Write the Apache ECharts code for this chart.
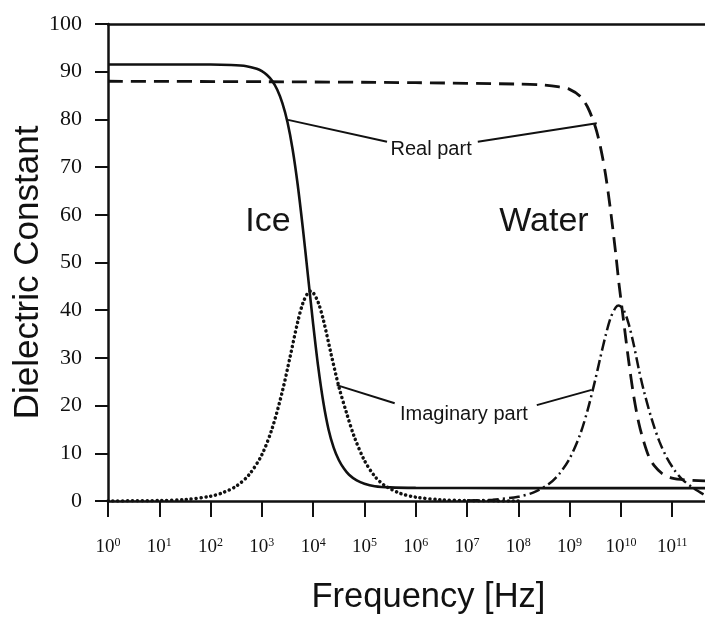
<!DOCTYPE html>
<html>
<head>
<meta charset="utf-8">
<script src="https://cdn.jsdelivr.net/npm/echarts@6/dist/echarts.min.js"></script>
<style>
html,body{margin:0;padding:0;background:#fff;}
#c{width:705px;height:619px;}
</style>
</head>
<body>
<div id="c"></div>
<script>
// x values are log10(frequency in Hz)
const decadeTicks = [0,1,2,3,4,5,6,7,8,9,10,11];
const yTicks = [0,10,20,30,40,50,60,70,80,90,100];

const iceRealLogF = [0, 1, 2, 2.4, 2.7, 2.9, 3.0, 3.1, 3.2, 3.3, 3.4, 3.5, 3.6, 3.7, 3.8, 3.9, 4.0, 4.1, 4.2, 4.3, 4.4, 4.5, 4.6, 4.7, 4.85, 5.0, 5.2, 5.5, 6, 8, 10, 11.64];
const iceReal     = [91.5, 91.5, 91.5, 91.4, 91.15, 90.6, 90.1, 89.3, 88.1, 86.2, 83.4, 79.4, 73.7, 66.2, 57.1, 47.1, 37.1, 28.0, 20.6, 15.0, 11.2, 8.6, 6.8, 5.5, 4.3, 3.6, 3.1, 2.85, 2.75, 2.7, 2.7, 2.7];

const iceImagLogF = [0, 1, 1.5, 2, 2.25, 2.5, 2.75, 3.0, 3.2, 3.4, 3.55, 3.7, 3.8, 3.9, 3.95, 4.0, 4.1, 4.2, 4.35, 4.5, 4.65, 4.8, 5.0, 5.2, 5.4, 5.7, 6.0, 6.5, 7.0, 8.0];
const iceImag     = [0, 0.1, 0.3, 1.0, 1.8, 3.1, 5.5, 9.7, 15.2, 23.0, 30.2, 37.6, 41.5, 43.7, 44.0, 43.7, 41.6, 37.9, 30.8, 24.0, 18.5, 13.5, 8.5, 5.2, 3.2, 1.6, 0.8, 0.25, 0.08, 0];

const waterRealLogF = [0, 3, 6, 8, 8.5, 8.8, 9.0, 9.2, 9.35, 9.5, 9.6, 9.7, 9.8, 9.9, 9.96, 10.05, 10.15, 10.25, 10.35, 10.45, 10.55, 10.65, 10.8, 11.0, 11.3, 11.64];
const waterReal     = [88.0, 87.9, 87.7, 87.4, 87.2, 86.8, 86.3, 84.9, 82.6, 78.5, 74.3, 68.5, 60.8, 51.8, 45.8, 38.0, 29.5, 22.0, 16.3, 12.3, 9.2, 7.4, 5.8, 4.8, 4.4, 4.2];

const waterImagLogF = [7.0, 7.5, 8.0, 8.3, 8.6, 8.8, 9.0, 9.2, 9.35, 9.5, 9.6, 9.7, 9.8, 9.9, 9.96, 10.05, 10.15, 10.25, 10.35, 10.45, 10.6, 10.75, 10.9, 11.05, 11.2, 11.4, 11.64];
const waterImag     = [0.09, 0.28, 0.9, 1.8, 3.6, 5.7, 8.9, 13.8, 19.0, 25.4, 30.1, 34.6, 38.4, 40.6, 41.0, 40.1, 37.2, 32.8, 27.6, 23.0, 17.2, 12.5, 9.0, 6.4, 4.5, 2.8, 1.2];

// annotations (in data units)
const annotLabels = ['Ice', 'Water', 'Real part', 'Imaginary part'];
const annotLogF   = [3.12, 8.50, 6.30, 6.94];
const annotValue  = [58.5, 58.5, 73.6, 18.2];
const leaderLines = [
  [[3.51, 79.9], [5.44, 75.3]],
  [[7.21, 75.3], [9.53, 79.2]],
  [[4.46, 24.3], [5.59, 20.5]],
  [[8.36, 20.1], [9.43, 23.3]]
];

const zip = (xs, ys) => xs.map((x, i) => [x, ys[i]]);
const SANS = '"Liberation Sans", Arial, sans-serif';
const SERIF = '"Liberation Serif", "Times New Roman", serif';
const INK = '#111';

const chart = echarts.init(document.getElementById('c'), null, {renderer: 'canvas'});

const curveBase = {type: 'line', showSymbol: false, symbol: 'none', smooth: 0.3, silent: true, z: 3};

const series = [
  Object.assign({}, curveBase, {name: 'Ice real', data: zip(iceRealLogF, iceReal),
    lineStyle: {color: INK, width: 2.6, type: 'solid'}}),
  Object.assign({}, curveBase, {name: 'Water real', data: zip(waterRealLogF, waterReal),
    lineStyle: {color: INK, width: 2.8, type: [15, 8]}}),
  Object.assign({}, curveBase, {name: 'Ice imaginary', data: zip(iceImagLogF, iceImag),
    lineStyle: {color: INK, width: 3.5, type: [0.1, 4.8], cap: 'round'}}),
  Object.assign({}, curveBase, {name: 'Water imaginary', data: zip(waterImagLogF, waterImag),
    lineStyle: {color: INK, width: 2.5, type: [11, 4, 2, 4]}})
];

leaderLines.forEach((seg, i) => {
  series.push({type: 'line', name: 'leader' + i, data: seg, showSymbol: false, symbol: 'none', silent: true,
    lineStyle: {color: INK, width: 2}, z: 2});
});

const annotSizes = {'Ice': 34, 'Water': 34, 'Real part': 20, 'Imaginary part': 20};
series.push({
  type: 'scatter', name: 'annotations', symbolSize: 1, silent: true, z: 5,
  itemStyle: {color: 'rgba(0,0,0,0)', opacity: 1},
  data: annotLabels.map((t, i) => ({
    name: t, value: [annotLogF[i], annotValue[i]],
    label: {show: true, position: 'inside', formatter: '{b}', fontFamily: SANS, fontSize: annotSizes[t],
            color: '#151515', opacity: 1, textBorderWidth: 0}
  }))
});

const option = {
  animation: false,
  backgroundColor: '#ffffff',
  grid: {left: 108, right: 0, top: 24, bottom: 118, containLabel: false, outerBoundsMode: 'none'},
  xAxis: [
    {
      type: 'value', min: 0, max: 11.64, interval: 1, position: 'bottom',
      name: 'Frequency [Hz]', nameLocation: 'middle', nameGap: 79,
      nameTextStyle: {fontFamily: SANS, fontSize: 34.5, color: '#111', padding: [0, 0, 0, 44]},
      axisLine: {show: true, onZero: false, lineStyle: {color: INK, width: 2.5}},
      axisTick: {show: true, inside: false, length: 16, lineStyle: {color: INK, width: 2}, customValues: decadeTicks},
      axisLabel: {
        show: true, margin: 36, customValues: decadeTicks,
        formatter: v => '{b|10}{s|' + v + '}',
        rich: {
          b: {fontFamily: SERIF, fontSize: 19, color: '#111', lineHeight: 20},
          s: {fontFamily: SERIF, fontSize: 12, color: '#111', lineHeight: 12, verticalAlign: 'top'}
        }
      },
      splitLine: {show: false}
    },
    {
      type: 'value', min: 0, max: 11.64, position: 'top',
      axisLine: {show: true, onZero: false, lineStyle: {color: INK, width: 2.5}},
      axisTick: {show: false}, axisLabel: {show: false}, splitLine: {show: false}
    }
  ],
  yAxis: {
    type: 'value', min: 0, max: 100, interval: 10,
    name: 'Dielectric Constant', nameLocation: 'middle', nameGap: 62, nameRotate: 90, nameMoveOverlap: false,
    nameTextStyle: {fontFamily: SANS, fontSize: 35, color: '#111', padding: [0, 20, 0, 0]},
    axisLine: {show: true, onZero: false, lineStyle: {color: INK, width: 2.5}},
    axisTick: {show: true, inside: false, length: 13, lineStyle: {color: INK, width: 2}, customValues: yTicks},
    axisLabel: {show: true, margin: 26, customValues: yTicks, fontFamily: SERIF, fontSize: 22, color: '#111'},
    splitLine: {show: false}
  },
  series: series
};

chart.setOption(option);
</script>
</body>
</html>
